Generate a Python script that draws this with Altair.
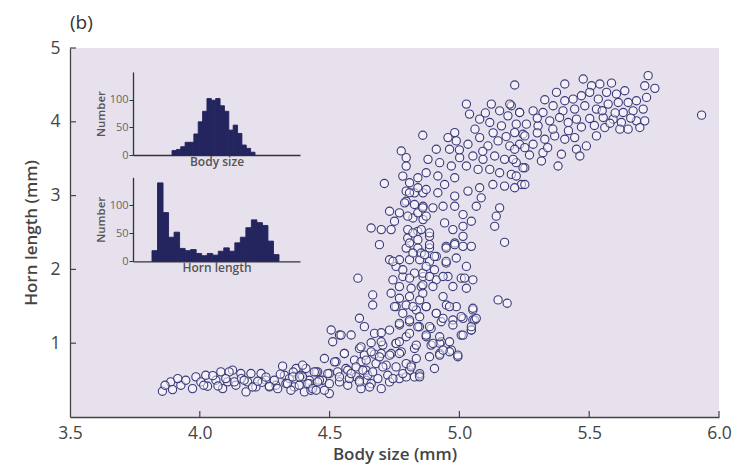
import altair as alt
import pandas as pd

# ---------------- data ----------------
low_points = [
    (3.856, 0.349), (3.888, 0.476), (3.927, 0.430), (3.946, 0.498), (3.972, 0.385),
    (3.985, 0.544), (4.023, 0.566), (4.030, 0.417), (4.062, 0.498), (4.081, 0.612),
    (4.088, 0.385), (4.107, 0.476), (4.126, 0.635), (4.139, 0.430), (4.158, 0.589),
    (4.178, 0.340), (4.184, 0.476), (4.197, 0.589), (4.216, 0.408), (4.236, 0.589),
    (4.255, 0.498), (4.268, 0.408), (4.293, 0.430), (4.319, 0.689), (4.326, 0.566),
    (4.332, 0.453), (4.345, 0.521), (4.364, 0.408), (4.371, 0.657), (4.390, 0.566),
    (4.403, 0.340), (4.409, 0.657), (4.422, 0.498), (4.435, 0.408), (4.454, 0.612),
    (4.473, 0.498), (4.480, 0.793), (4.499, 0.589), (4.499, 0.317), (4.506, 1.179),
    (4.512, 1.020), (4.525, 0.748), (4.538, 1.111), (4.557, 0.861), (4.563, 0.657),
    (4.570, 0.430), (4.583, 1.111), (4.596, 0.770), (4.602, 0.544), (4.615, 1.338),
    (4.615, 0.929), (4.621, 0.748), (4.634, 1.224), (4.641, 0.498),
    (3.895, 0.371), (4.004, 0.475), (4.113, 0.611), (4.203, 0.407), (4.287, 0.498),
    (4.300, 0.384), (4.338, 0.452), (4.351, 0.362), (4.383, 0.430), (4.396, 0.543),
    (4.448, 0.611), (4.461, 0.498), (4.428, 0.362), (3.866, 0.430), (4.050, 0.560),
    (4.160, 0.520), (4.240, 0.470), (4.310, 0.580), (4.360, 0.610),
    (4.100, 0.520), (4.133, 0.475), (4.171, 0.498), (4.223, 0.484), (4.255, 0.540),
    (4.268, 0.416), (4.358, 0.543), (4.422, 0.452), (4.493, 0.588), (3.915, 0.520),
    (4.015, 0.430), (4.070, 0.420),
]

dense_points = [
    (4.544, 1.110), (4.673, 1.133), (4.699, 1.142), (4.769, 1.246), (4.808, 1.291),
    (4.846, 1.223), (4.756, 1.495), (4.795, 1.518), (4.834, 1.450), (4.872, 1.495),
    (4.911, 1.405), (4.950, 1.518), (4.891, 1.200), (4.930, 1.291), (4.975, 1.314),
    (5.014, 1.337), (5.052, 1.314), (5.046, 1.178), (5.007, 1.110), (4.988, 1.495),
    (4.621, 0.951), (4.660, 1.006), (4.705, 0.974), (4.756, 0.997), (4.795, 1.087),
    (4.827, 0.928), (4.872, 1.087), (4.930, 1.019), (4.891, 0.974), (4.924, 0.860),
    (4.969, 0.906), (4.519, 0.747), (4.557, 0.860), (4.634, 0.838), (4.673, 0.851),
    (4.699, 0.860), (4.737, 0.860), (4.776, 0.883), (4.834, 0.792), (4.396, 0.702),
    (4.441, 0.611), (4.531, 0.611), (4.570, 0.634), (4.602, 0.679), (4.641, 0.634),
    (4.679, 0.724), (4.718, 0.702), (4.756, 0.679), (4.724, 0.566), (4.686, 0.520),
    (4.647, 0.566), (4.615, 0.498), (4.576, 0.520), (4.538, 0.475), (4.454, 0.475),
    (4.416, 0.452), (4.384, 0.543), (4.435, 0.384), (4.480, 0.362), (4.621, 0.384),
    (4.660, 0.452), (4.731, 0.475), (4.769, 0.520), (4.808, 0.634), (4.795, 0.543),
    (4.846, 0.566), (4.814, 0.702), (4.904, 0.657),
]

rise_points = [
    (4.711, 3.164), (4.731, 2.788), (4.750, 2.652), (4.660, 2.561), (4.699, 2.539),
    (4.737, 2.539), (4.692, 2.335), (4.609, 1.881), (4.731, 2.131), (4.756, 2.040),
    (4.666, 1.654), (4.666, 1.518), (4.744, 1.858), (4.737, 1.677), (4.750, 1.496),
    (4.699, 1.019), (4.731, 1.178), (4.756, 0.997), (4.660, 0.883),
    (4.641, 0.770), (4.692, 0.815), (4.731, 0.838), (4.769, 0.861), (4.795, 0.724),
    (4.705, 0.679), (4.666, 0.611), (4.628, 0.634), (4.583, 0.588), (4.538, 0.543),
    (4.499, 0.452), (4.448, 0.362), (4.615, 0.475), (4.654, 0.407), (4.699, 0.384),
    (4.744, 0.520), (4.782, 0.588), (4.814, 0.679), (4.827, 0.543), (4.847, 0.588),
    (4.769, 1.019), (4.808, 1.133), (4.834, 0.974), (4.840, 1.223), (4.808, 1.314),
    (4.847, 1.359), (4.769, 1.269), (4.782, 1.405), (4.821, 1.496), (4.769, 1.609),
    (4.808, 1.632), (4.847, 1.586), (4.769, 1.767), (4.814, 1.745), (4.853, 1.767),
    (4.782, 1.903), (4.827, 1.949), (4.860, 1.903), (4.769, 2.131), (4.808, 2.131),
    (4.847, 2.131), (4.795, 2.289), (4.840, 2.289), (4.801, 2.426), (4.840, 2.403),
    (4.801, 2.539), (4.840, 2.516), (4.860, 2.675), (4.821, 2.697), (4.860, 2.856),
    (4.827, 2.879), (4.795, 2.924), (4.827, 3.037), (4.795, 3.060), (4.860, 3.037),
    (4.782, 3.264), (4.808, 3.174), (4.840, 3.242), (4.795, 3.400),
    (4.776, 3.605), (4.795, 3.514), (4.808, 3.038), (4.840, 3.106), (4.789, 2.902),
    (4.769, 2.766), (4.801, 2.721), (4.840, 2.766), (4.821, 2.494), (4.853, 2.539),
    (4.808, 2.358), (4.885, 2.448), (4.744, 2.108), (4.821, 2.222), (4.853, 2.222),
    (4.885, 2.290), (4.911, 2.176), (4.949, 2.312), (4.982, 2.358), (5.014, 2.448),
    (4.808, 1.881), (4.859, 1.949), (4.904, 1.995), (4.949, 2.086), (5.027, 2.040),
    (5.007, 1.881), (4.782, 1.995), (4.885, 2.108), (4.911, 1.859), (4.956, 1.904),
    (4.859, 1.791), (4.847, 0.544), (4.885, 0.816), (4.924, 0.839),
    (4.962, 0.884), (4.994, 0.816), (5.046, 1.179), (5.059, 1.315), (5.052, 1.451),
    (4.924, 1.000),
]

mid_points = [
    (5.213, 4.498), (5.027, 4.240), (5.123, 4.240), (5.039, 4.104), (5.078, 4.036),
    (5.155, 4.149), (5.200, 4.217), (5.187, 4.081), (5.232, 4.126), (5.117, 3.990),
    (5.162, 3.945), (5.219, 3.968), (5.245, 3.832), (4.859, 3.818), (4.956, 3.786),
    (4.982, 3.854), (4.988, 3.741), (5.033, 3.696), (5.078, 3.786), (5.110, 3.673),
    (5.149, 3.741), (5.194, 3.673), (5.232, 3.696), (4.911, 3.628), (4.962, 3.628),
    (5.001, 3.514), (5.052, 3.537), (5.091, 3.491), (5.136, 3.537), (5.174, 3.491),
    (5.219, 3.446), (5.252, 3.378), (4.879, 3.491), (4.924, 3.446), (4.969, 3.401),
    (5.027, 3.401), (5.072, 3.355), (5.117, 3.355), (5.155, 3.310), (5.200, 3.287),
    (5.239, 3.151), (4.872, 3.310), (4.917, 3.265), (4.982, 3.242), (4.943, 3.151),
    (5.033, 3.061), (5.078, 3.106), (5.129, 3.151), (5.174, 3.129), (5.213, 3.106),
    (4.872, 3.083), (4.917, 3.038), (4.982, 2.993), (5.084, 2.970), (5.065, 2.856),
    (5.155, 2.834), (4.859, 2.834), (4.898, 2.834), (4.937, 2.856), (4.982, 2.856),
    (5.014, 2.743), (5.142, 2.721), (5.136, 2.584), (4.872, 2.721), (4.943, 2.630),
    (4.975, 2.539), (5.014, 2.584), (5.046, 2.652), (4.885, 2.494), (4.885, 2.335),
    (4.866, 2.199), (4.904, 2.176), (4.949, 2.290), (4.982, 2.335), (5.014, 2.312),
    (5.046, 2.312), (5.174, 2.367), (4.949, 2.108), (4.988, 2.154), (4.872, 2.040),
    (4.885, 1.904), (4.937, 1.904), (4.975, 1.768), (5.020, 1.882), (5.052, 1.859),
    (5.027, 1.745), (4.898, 1.768), (4.859, 1.677), (4.937, 1.632), (5.149, 1.587),
    (5.184, 1.541), (4.872, 1.496), (4.911, 1.405), (4.962, 1.496), (5.007, 1.360),
    (5.052, 1.473), (5.065, 1.337), (5.046, 1.224), (5.014, 1.110), (4.975, 1.247),
    (4.937, 1.337), (4.885, 1.224), (4.924, 1.088), (4.962, 1.020), (4.898, 0.997),
    (4.872, 1.110), (4.937, 0.906), (4.994, 0.838),
    (5.100, 4.120), (5.060, 3.900), (5.130, 3.850), (5.180, 3.800), (5.000, 3.620),
    (5.090, 3.600), (5.270, 3.550),
]

upper_points = [
    (5.406, 4.512), (5.477, 4.580), (5.509, 4.489), (5.541, 4.512), (5.586, 4.525),
    (5.637, 4.421), (5.727, 4.625), (5.714, 4.489), (5.753, 4.453), (5.374, 4.399),
    (5.329, 4.299), (5.406, 4.285), (5.438, 4.308), (5.470, 4.353), (5.502, 4.399),
    (5.535, 4.308), (5.567, 4.399), (5.605, 4.376), (5.682, 4.285), (5.721, 4.330),
    (5.194, 4.240), (5.284, 4.149), (5.232, 4.126), (5.322, 4.126), (5.361, 4.217),
    (5.399, 4.149), (5.444, 4.172), (5.483, 4.217), (5.528, 4.172), (5.573, 4.240),
    (5.612, 4.262), (5.650, 4.262), (5.708, 4.172), (5.631, 4.126), (5.669, 4.149),
    (5.258, 3.968), (5.303, 3.945), (5.348, 4.013), (5.386, 4.058), (5.419, 3.990),
    (5.451, 4.036), (5.502, 4.045), (5.554, 4.058), (5.592, 4.036), (5.624, 3.990),
    (5.682, 4.013), (5.714, 4.013), (5.695, 3.922), (5.650, 3.900), (5.213, 3.854),
    (5.252, 3.809), (5.284, 3.696), (5.329, 3.764), (5.367, 3.809), (5.406, 3.764),
    (5.444, 3.786), (5.489, 3.673), (5.528, 3.809), (5.560, 3.922), (5.618, 3.900),
    (5.213, 3.628), (5.252, 3.650), (5.322, 3.582), (5.393, 3.560), (5.451, 3.628),
    (5.464, 3.537), (5.316, 3.469), (5.380, 3.401), (5.207, 3.491), (5.245, 3.378),
    (5.219, 3.265), (5.252, 3.151), (5.933, 4.090),
    (5.300, 4.050), (5.360, 3.900), (5.420, 3.880), (5.470, 3.930), (5.550, 4.150),
    (5.600, 4.120), (5.660, 4.050), (5.580, 3.980), (5.520, 3.950), (5.300, 3.850),
    (5.340, 3.650),
]

body_bins = [3.8, 3.9, 4.0, 4.1, 4.2, 4.3, 4.4, 4.5, 4.6, 4.7,
             4.8, 4.9, 5.0, 5.1, 5.2, 5.3, 5.4, 5.5, 5.6]
body_counts = [8, 10, 15, 23, 23, 38, 60, 79, 102, 99,
               102, 89, 79, 45, 54, 39, 18, 12, 5]

horn_bins = [0.2, 0.4, 0.6, 0.8, 1.0, 1.2, 1.4, 1.6, 1.8, 2.0, 2.2, 2.4,
             2.6, 2.8, 3.0, 3.2, 3.4, 3.6, 3.8, 4.0, 4.2, 4.4, 4.6]
horn_counts = [19, 140, 87, 43, 52, 23, 19, 21, 14, 10, 14, 11,
               18, 24, 18, 33, 43, 60, 74, 69, 64, 36, 12]

x_ticks = [3.5, 4.0, 4.5, 5.0, 5.5, 6.0]
x_inner_ticks = [4.0, 4.5, 5.0, 5.5, 6.0]
y_ticks = [1, 2, 3, 4, 5]
count_ticks = [0, 50, 100]

# ---------------- styling ----------------
W, H = 649, 369
BG = "#e7e1ee"
INK = "#444444"
PT = "#3a3a7a"
NAVY = "#24245f"
FONT = "Open Sans"

pts = pd.DataFrame(low_points + dense_points + rise_points + mid_points + upper_points,
                   columns=["body", "horn"])


def xs():
    return alt.Scale(domain=[3.5, 6.0], nice=False, zero=False)


def ys():
    return alt.Scale(domain=[0, 5], nice=False, zero=False)


scatter = alt.Chart(pts).mark_point(
    shape="circle", size=68, fill="white", fillOpacity=0.5,
    stroke=PT, strokeWidth=1.1, opacity=1
).encode(
    x=alt.X("body:Q", scale=xs(), axis=alt.Axis(
        orient="bottom", values=x_ticks, format=".1f", ticks=False,
        grid=False, labelPadding=7, labelFontSize=17.5, labelColor=INK,
        labelFont=FONT, labelFlush=False, domainColor=INK, domainWidth=1.3,
        title="Body size (mm)", titleFont=FONT, titleFontSize=17,
        titleFontWeight=600, titleColor="#444444", titlePadding=5)),
    y=alt.Y("horn:Q", scale=ys(), axis=alt.Axis(
        orient="left", values=y_ticks, ticks=False, grid=False,
        labelPadding=10, labelFontSize=17.5, labelColor=INK, labelFont=FONT,
        labelFlush=False, domainColor=INK, domainWidth=1.3,
        title="Horn length (mm)", titleFont=FONT, titleFontSize=17,
        titleFontWeight=600, titleColor="#444444", titlePadding=9)),
)

xt = pd.DataFrame({"t": x_inner_ticks})
xtick = alt.Chart(xt).mark_rule(color=INK, strokeWidth=1.2).encode(
    x=alt.X("t:Q", scale=xs(), axis=None),
    y=alt.value(H), y2=alt.value(H - 6),
)
yt = pd.DataFrame({"t": y_ticks})
ytick = alt.Chart(yt).mark_rule(color=INK, strokeWidth=1.2).encode(
    y=alt.Y("t:Q", scale=ys(), axis=None),
    x=alt.value(0), x2=alt.value(6),
)


def inset(bins, counts, width, xdom, yrange, xoffset, title):
    df = pd.DataFrame({"start": bins, "count": counts})
    bx = alt.Scale(domain=xdom, range=[63, 230], nice=False, zero=False)
    by = alt.Scale(domain=[0, 150], range=yrange, nice=False, zero=False)
    return alt.Chart(df).transform_calculate(
        end=f"datum.start + {width}", base="0"
    ).mark_bar(color=NAVY, stroke=NAVY, strokeWidth=0.9).encode(
        x=alt.X("start:Q", scale=bx, axis=alt.Axis(
            orient="bottom", offset=xoffset, labels=False, ticks=False,
            grid=False, domainColor="#333333", domainWidth=1.3,
            title=title, titleFont=FONT, titleFontSize=12,
            titleFontWeight=600, titleColor="#555555", titlePadding=1)),
        x2="end:Q",
        y=alt.Y("count:Q", scale=by, axis=alt.Axis(
            orient="left", offset=-63, values=count_ticks, grid=False,
            tickSize=4, tickColor="#333333", labelPadding=1,
            labelFontSize=11, labelColor="#666666", labelFont=FONT,
            labelFlush=False, domainColor="#333333", domainWidth=1.3,
            title="Number", titleFont=FONT, titleFontSize=11.5,
            titleFontWeight=600, titleColor="#555555", titlePadding=3)),
        y2="base:Q",
    )


inset_body = inset(body_bins, body_counts, 0.1, [2.907, 6.730],
                   [107, 24], -262, "Body size")
inset_horn = inset(horn_bins, horn_counts, 0.2, [-0.488, 5.561],
                   [213.3, 129.3], -155.7, "Horn length")

chart = alt.layer(scatter, xtick, ytick, inset_body, inset_horn).resolve_scale(
    x="independent", y="independent"
).properties(
    width=W, height=H,
    padding={"left": 62, "top": 40, "right": 13, "bottom": 47},
    autosize=alt.AutoSizeParams(type="none"),
    title=alt.TitleParams("(b)", anchor="start", frame="group", font=FONT,
                          fontSize=19, fontWeight="normal", color="#333333",
                          offset=6),
).configure_view(fill=BG, stroke=None)

chart.save("out.html", embed_options={"renderer": "svg", "actions": False})
